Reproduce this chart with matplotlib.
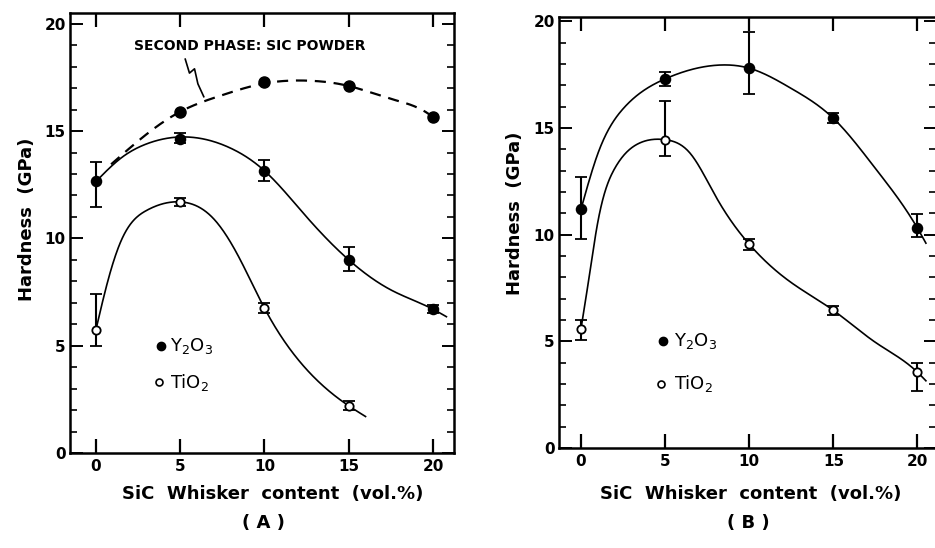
import numpy as np
import matplotlib
matplotlib.use('Agg')
import matplotlib.pyplot as plt
from matplotlib.ticker import MultipleLocator

plt.rcParams['font.family'] = ['DejaVu Sans']
plt.rcParams['mathtext.default'] = 'regular'

# ---- panel A data ----
x_content = [0, 5, 10, 15, 20]
a_y2o3 = [12.65, 14.65, 13.15, 9.0, 6.7]
a_y2o3_hi = [13.55, 14.9, 13.65, 9.6, 6.9]
a_y2o3_lo = [11.45, 14.45, 12.65, 8.5, 6.5]
a_tio2_x = [0, 5, 10, 15]
a_tio2 = [5.75, 11.7, 6.75, 2.2]
a_tio2_hi = [7.4, 11.9, 7.0, 2.4]
a_tio2_lo = [5.0, 11.5, 6.5, 2.0]
a_sic_x = [5, 10, 15, 20]
a_sic = [15.9, 17.3, 17.1, 15.65]

# hand-drawn guide curves
a_y2o3_cx = [0, 1.5, 3, 5.5, 8, 10, 12.5, 15, 17.5, 20, 20.8]
a_y2o3_cy = [12.65, 13.75, 14.4, 14.72, 14.2, 13.15, 11.0, 9.0, 7.6, 6.7, 6.35]
a_sic_cx = [0.9, 3, 5, 7.4, 10, 12.5, 15, 17.5, 20, 20.3]
a_sic_cy = [13.45, 14.85, 15.9, 16.65, 17.22, 17.35, 17.1, 16.5, 15.65, 15.45]
a_tio2_cx = [0, 0.7, 1.5, 3, 5, 7, 8.5, 10, 12, 15, 16]
a_tio2_cy = [5.75, 8.0, 9.9, 11.3, 11.7, 10.9, 9.1, 6.75, 4.35, 2.2, 1.7]

# ---- panel B data ----
b_y2o3 = [11.2, 17.3, 17.8, 15.45, 10.3]
b_y2o3_hi = [12.7, 17.6, 19.5, 15.7, 10.95]
b_y2o3_lo = [9.8, 16.95, 16.6, 15.25, 9.9]
b_tio2 = [5.6, 14.45, 9.55, 6.45, 3.55]
b_tio2_hi = [6.0, 16.25, 9.8, 6.65, 4.0]
b_tio2_lo = [5.05, 13.7, 9.3, 6.25, 2.65]

b_y2o3_cx = [0, 1, 2.5, 5, 8.3, 10, 12.5, 15, 17.5, 20, 20.5]
b_y2o3_cy = [11.2, 13.8, 15.9, 17.3, 17.95, 17.8, 16.85, 15.45, 13.1, 10.3, 9.6]
b_tio2_cx = [0, 0.4, 1.0, 2.0, 3.5, 5, 6.5, 8, 10, 12.5, 15, 17.5, 20, 20.5]
b_tio2_cy = [5.6, 7.6, 10.6, 13.1, 14.3, 14.45, 13.8, 11.8, 9.55, 7.75, 6.45, 4.95, 3.55, 3.15]


def smooth(xk, yk, n=400):
    # natural cubic spline through the traced knots
    x = np.asarray(xk, float)
    y = np.asarray(yk, float)
    k = len(x)
    h = np.diff(x)
    A = np.zeros((k, k))
    r = np.zeros(k)
    A[0, 0] = A[-1, -1] = 1
    for i in range(1, k - 1):
        A[i, i - 1] = h[i - 1]
        A[i, i] = 2 * (h[i - 1] + h[i])
        A[i, i + 1] = h[i]
        r[i] = 6 * ((y[i + 1] - y[i]) / h[i] - (y[i] - y[i - 1]) / h[i - 1])
    M = np.linalg.solve(A, r)
    xs = np.linspace(x[0], x[-1], n)
    i = np.clip(np.searchsorted(x, xs) - 1, 0, k - 2)
    hi = h[i]
    t0 = x[i + 1] - xs
    t1 = xs - x[i]
    ys = (M[i] * t0 ** 3 / (6 * hi) + M[i + 1] * t1 ** 3 / (6 * hi)
          + (y[i] / hi - M[i] * hi / 6) * t0 + (y[i + 1] / hi - M[i + 1] * hi / 6) * t1)
    return xs, ys


def err(v, hi, lo):
    v, hi, lo = np.array(v), np.array(hi), np.array(lo)
    return [v - lo, hi - v]


def style_axes(ax, xlim, ylim):
    ax.set_xlim(*xlim)
    ax.set_ylim(*ylim)
    ax.xaxis.set_major_locator(MultipleLocator(5))
    ax.yaxis.set_major_locator(MultipleLocator(5))
    ax.yaxis.set_minor_locator(MultipleLocator(1))
    ax.tick_params(axis='x', which='major', direction='in', length=10, width=1.6,
                   top=True, bottom=True, labelsize=11, pad=4)
    ax.tick_params(axis='y', which='major', direction='in', length=9, width=1.4,
                   left=True, right=True, labelsize=11, pad=3)
    ax.tick_params(axis='y', which='minor', direction='in', length=5, width=1.2,
                   left=True, right=True)
    for lab in ax.get_xticklabels() + ax.get_yticklabels():
        lab.set_fontweight('bold')
    for s in ax.spines.values():
        s.set_linewidth(1.8)


def draw_series(ax, x, v, hi, lo, face):
    ax.errorbar(x, v, yerr=err(v, hi, lo), fmt='o', color='black', mfc=face, mec='black',
                ms=7 if face == 'black' else 6, mew=1.3, capsize=4, elinewidth=1.5,
                capthick=1.8, zorder=3)


fig = plt.figure(figsize=(9.35, 5.48), dpi=100)

# ---- panel A ----
axA = fig.add_axes([70 / 935, 1 - 453 / 548, 384 / 935, 440 / 548])
cx, cy = smooth(a_y2o3_cx, a_y2o3_cy)
axA.plot(cx, cy, color='black', lw=1.2)
cx, cy = smooth(a_sic_cx, a_sic_cy)
axA.plot(cx, cy, color='black', lw=1.6, dashes=(5, 3.5))
cx, cy = smooth(a_tio2_cx, a_tio2_cy)
axA.plot(cx, cy, color='black', lw=1.2)
draw_series(axA, x_content, a_y2o3, a_y2o3_hi, a_y2o3_lo, 'black')
draw_series(axA, a_tio2_x, a_tio2, a_tio2_hi, a_tio2_lo, 'white')
axA.plot(a_sic_x, a_sic, 'o', color='black', ms=8, zorder=3)

axA.text(9.15, 18.95, 'SECOND PHASE: SIC POWDER', ha='center', va='center',
         fontsize=10, fontweight='bold')
axA.plot([5.3, 5.55, 5.85, 6.05, 6.4], [18.35, 17.7, 17.9, 17.2, 16.6], color='black', lw=1.2)

axA.plot([3.85], [5.0], 'o', color='black', ms=6)
axA.text(4.4, 5.0, r'Y$_2$O$_3$', va='center', fontsize=13)
axA.plot([3.75], [3.3], 'o', mfc='white', mec='black', ms=5, mew=1.2)
axA.text(4.4, 3.3, r'TiO$_2$', va='center', fontsize=13)
style_axes(axA, (-1.54, 21.25), (0, 20.5))

# ---- panel B ----
axB = fig.add_axes([559 / 935, 1 - 448 / 548, 377 / 935, 431 / 548])
cx, cy = smooth(b_y2o3_cx, b_y2o3_cy)
axB.plot(cx, cy, color='black', lw=1.2)
cx, cy = smooth(b_tio2_cx, b_tio2_cy)
axB.plot(cx, cy, color='black', lw=1.2)
draw_series(axB, x_content, b_y2o3, b_y2o3_hi, b_y2o3_lo, 'black')
draw_series(axB, x_content, b_tio2, b_tio2_hi, b_tio2_lo, 'white')

axB.plot([4.9], [5.0], 'o', color='black', ms=6)
axB.text(5.5, 5.0, r'Y$_2$O$_3$', va='center', fontsize=13)
axB.plot([4.75], [3.0], 'o', mfc='white', mec='black', ms=5, mew=1.2)
axB.text(5.5, 3.0, r'TiO$_2$', va='center', fontsize=13)
style_axes(axB, (-1.31, 21.1), (0, 20.2))

# ---- labels ----
lab_kw = dict(ha='center', va='center', fontsize=13, fontweight='bold')
fig.text(273 / 935, 1 - 494 / 548, 'SiC  Whisker  content  (vol.%)', **lab_kw)
fig.text(263 / 935, 1 - 523 / 548, '( A )', **lab_kw)
fig.text(27 / 935, 1 - 219 / 548, 'Hardness  (GPa)', rotation=90, **lab_kw)
fig.text(751 / 935, 1 - 494 / 548, 'SiC  Whisker  content  (vol.%)', **lab_kw)
fig.text(748 / 935, 1 - 523 / 548, '( B )', **lab_kw)
fig.text(515 / 935, 1 - 213 / 548, 'Hardness  (GPa)', rotation=90, **lab_kw)

fig.savefig('out.png', dpi=100)
